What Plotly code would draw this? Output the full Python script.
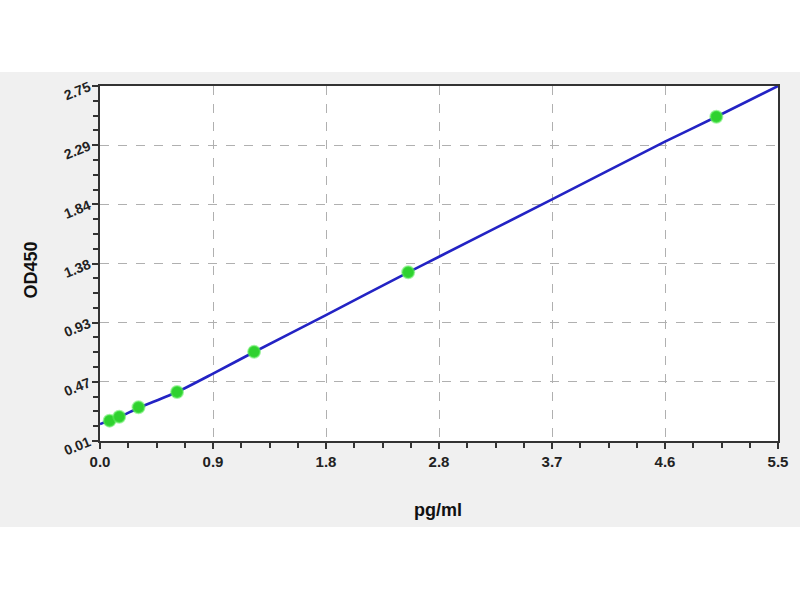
import plotly.graph_objects as go

# Standard points (concentration pg/ml, OD450)
std_conc = [0.078, 0.156, 0.3125, 0.625, 1.25, 2.5, 5.0]
std_od = [0.167, 0.197, 0.270, 0.388, 0.698, 1.312, 2.513]

# Fitted curve
curve_x = [0.0, 0.078, 0.156, 0.3125, 0.625, 0.917, 1.25, 1.833, 2.5, 2.75, 3.667, 4.583, 5.0, 5.5]
curve_y = [0.141, 0.168, 0.196, 0.265, 0.388, 0.53, 0.697, 0.982, 1.312, 1.432, 1.875, 2.32, 2.513, 2.75]

x_tickvals = [0.0, 0.9167, 1.8333, 2.75, 3.6667, 4.5833, 5.5]
x_ticktext = ["0.0", "0.9", "1.8", "2.8", "3.7", "4.6", "5.5"]
y_tickvals = [0.01, 0.4667, 0.9233, 1.38, 1.8367, 2.2933, 2.75]
y_ticktext = ["0.01", "0.47", "0.93", "1.38", "1.84", "2.29", "2.75"]

def minors(vals):
    out = []
    for a, b in zip(vals[:-1], vals[1:]):
        for k in (1, 2, 3):
            out.append(a + (b - a) * k / 4)
    return out

FAM = "Liberation Sans, Arial, sans-serif"

fig = go.Figure()
fig.add_trace(go.Scatter(x=curve_x, y=curve_y, mode="lines",
                         line=dict(color="#2323c4", width=2.6, shape="spline", smoothing=0.6),
                         hoverinfo="skip"))
fig.add_trace(go.Scatter(x=std_conc, y=std_od, mode="markers",
                         marker=dict(color="#2fd12f", size=12, symbol="circle",
                                     line=dict(color="rgba(90,235,90,0.55)", width=2))))

font_tick = dict(family=FAM, size=14, color="#222222", weight="bold")

fig.update_layout(
    width=800, height=600,
    margin=dict(l=100, r=17, t=86, b=159),
    paper_bgcolor="#f0f0f0",
    plot_bgcolor="white",
    showlegend=False,
    xaxis=dict(range=[0, 5.5], tickmode="array", tickvals=x_tickvals, ticktext=x_ticktext,
               showline=True, linecolor="#333333", linewidth=2, mirror=True,
               ticks="outside", ticklen=6, tickwidth=2, tickcolor="#333333",
               showgrid=True, gridcolor="#b0b0b0", griddash="dash", gridwidth=1,
               zeroline=False,
               minor=dict(tickvals=minors(x_tickvals), ticks="outside", ticklen=5,
                          tickwidth=2, tickcolor="#333333", showgrid=False),
               tickfont=dict(font_tick, size=15), fixedrange=True),
    yaxis=dict(range=[0.01, 2.75], tickmode="array", tickvals=y_tickvals, ticktext=y_ticktext,
               showline=True, linecolor="#333333", linewidth=2, mirror=True,
               ticks="outside", ticklen=6, tickwidth=2, tickcolor="#333333",
               showgrid=True, gridcolor="#b0b0b0", griddash="dash", gridwidth=1,
               zeroline=False, tickangle=-22,
               minor=dict(tickvals=minors(y_tickvals), ticks="outside", ticklen=5,
                          tickwidth=2, tickcolor="#333333", showgrid=False),
               tickfont=font_tick, fixedrange=True),
    shapes=[
        dict(type="rect", xref="paper", yref="paper", x0=-0.2, x1=1.1,
             y0=(441 - 72) / 355, y1=1.3, fillcolor="white", line=dict(width=0), layer="above"),
        dict(type="rect", xref="paper", yref="paper", x0=-0.2, x1=1.1,
             y0=-0.5, y1=(441 - 527) / 355, fillcolor="white", line=dict(width=0), layer="above"),
    ],
    annotations=[
        dict(text="<b>pg/ml</b>", xref="paper", yref="paper", x=(440 - 100) / 683,
             y=(441 - 510) / 355, xanchor="center", yanchor="middle", showarrow=False,
             font=dict(family=FAM, size=18, color="#111111")),
        dict(text="<b>OD450</b>", xref="paper", yref="paper", x=(30 - 100) / 683,
             y=(441 - 270) / 355, xanchor="center", yanchor="middle", showarrow=False,
             textangle=-90,
             font=dict(family=FAM, size=18, color="#111111")),
    ],
)

fig.write_html("out.html", config={"displayModeBar": False},
               post_script="document.body.style.margin='0';")
